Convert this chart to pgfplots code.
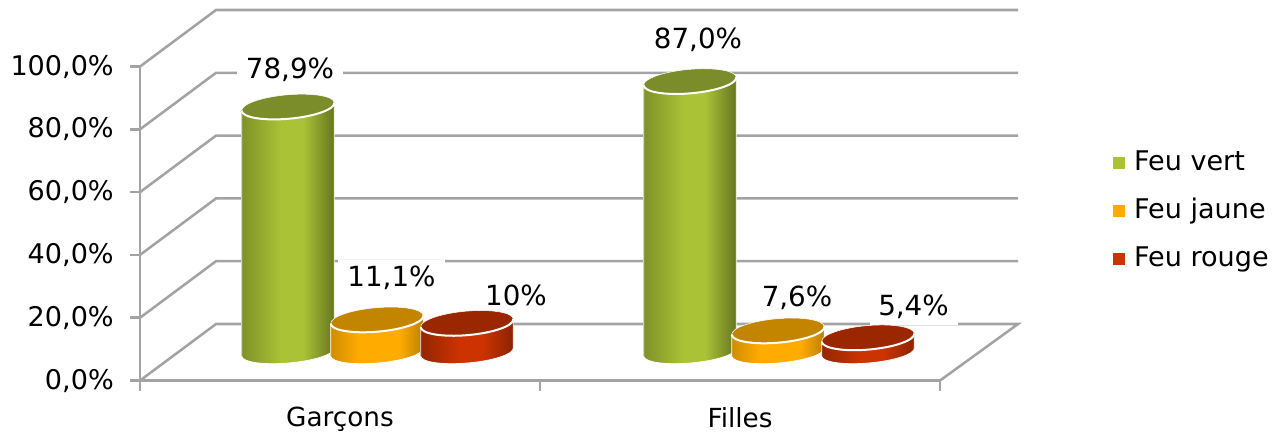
\documentclass[border=0pt]{standalone}
\usepackage{pgfplots}
\pgfplotsset{compat=1.18}
\usepackage{fontspec}
\setmainfont{DejaVu Sans}

\definecolor{wallgray}{HTML}{A3A3A3}
\definecolor{greenleft}{HTML}{7F9128}
\definecolor{greenedge}{HTML}{64741F}
\definecolor{greenmid}{HTML}{A9C236}
\definecolor{greencap}{HTML}{7B8D2A}
\definecolor{orangeleft}{HTML}{D08D00}
\definecolor{orangeedge}{HTML}{BA7E00}
\definecolor{orangemid}{HTML}{FFAB00}
\definecolor{orangecap}{HTML}{C38500}
\definecolor{redleft}{HTML}{942600}
\definecolor{rededge}{HTML}{8A2300}
\definecolor{redmid}{HTML}{CC3300}
\definecolor{redcap}{HTML}{9A2700}

% Round-body gradients, dark at both rims and bright just right of the centre.
\pgfdeclarehorizontalshading{bodygreen}{100bp}{color(0bp)=(greenleft); color(25bp)=(greenleft);
  color(46bp)=(greenmid); color(58bp)=(greenmid); color(75bp)=(greenedge); color(100bp)=(greenedge)}
\pgfdeclarehorizontalshading{bodyorange}{100bp}{color(0bp)=(orangeleft); color(25bp)=(orangeleft);
  color(40bp)=(orangemid); color(62bp)=(orangemid); color(75bp)=(orangeedge); color(100bp)=(orangeedge)}
\pgfdeclarehorizontalshading{bodyred}{100bp}{color(0bp)=(redleft); color(25bp)=(redleft);
  color(46bp)=(redmid); color(58bp)=(redmid); color(75bp)=(rededge); color(100bp)=(rededge)}

% A cylinder hanging below its data point; 1 unit = 1 px of the drawing.
% The value sets the height of the body (3.14 units per percent).
\newcommand{\cylinderpic}[2]{%
  \pgfmathsetmacro{\cylh}{\val*3.14-2.5}%
  \begin{tikzpicture}[x=0.75pt,y=0.75pt]
    \path[use as bounding box] (0,0) rectangle (0,0);
    \begin{scope}[overlay,shift={(38,26)}]
    \path[shade,shading=#1,shading angle=0,draw=white,line width=0.6pt]
      (-46.32,-4.05) -- (-46.32,-4.05-\cylh)
      .. controls (-45.79,-10.11-\cylh) and (-24.62,-13.20-\cylh) .. (0.96,-10.96-\cylh)
      .. controls (26.54,-8.72-\cylh) and (46.85,-2.01-\cylh) .. (46.32,4.05-\cylh)
      -- (46.32,4.05) -- cycle;
    \path[fill=#2,draw=white,line width=0.4pt,rotate=5]
      (0,0) ellipse[x radius=46.5,y radius=12];
    \draw[white,line width=1.5pt,rotate=5]
      (-46.5,0) arc[start angle=180,end angle=360,x radius=46.5,y radius=12];
    \end{scope}
  \end{tikzpicture}}

\newcommand{\chartfont}{\fontsize{20.3}{24}\selectfont}
\newcommand{\valuefont}{\fontsize{20.8}{24}\selectfont}

\pgfplotsset{
  wall/.style={wallgray,line width=1.9pt,forget plot,no markers},
  cyl/.style={only marks,mark=none,forget plot,
    visualization depends on={rawy \as \val},
    nodes near coords={\cylinderpic#1},
    nodes near coords style={anchor=center,inner sep=0pt,outer sep=0pt}},
}
\tikzset{
  vlabel/.style={fill=white,inner sep=0pt,font=\valuefont,
    minimum height=27pt,minimum width=79pt},
  swatch/.style={draw=none,fill=#1},
}

\begin{document}
\begin{tikzpicture}
\path[use as bounding box] (0,0) rectangle (960pt,324pt);
\begin{axis}[
  at={(105pt,38.6pt)},anchor=south west,
  scale only axis,width=600pt,height=235.5pt,
  xmin=140,xmax=940,ymin=0,ymax=100,
  clip=false,
  axis x line=bottom,axis y line=left,
  axis line style={-,wallgray,line width=1.9pt},
  tick style={wallgray,line width=1.9pt},
  tick align=outside,
  major tick length=7.5pt,
  xtick={140,540,940},xticklabels={,,},
  extra x ticks={340,740},
  extra x tick labels={Garçons,Filles},
  extra x tick style={major tick length=0pt},
  ytick={0,20,40,60,80,100},
  yticklabels={0{,}0\%,20{,}0\%,40{,}0\%,60{,}0\%,80{,}0\%,100{,}0\%},
  yticklabel style={font=\chartfont,inner sep=0pt,xshift=-12pt},
  xticklabel style={font=\fontsize{19.7}{24}\selectfont,inner sep=0pt,yshift=-20pt},
  legend cell align=left,
  legend style={draw=none,fill=none,at={(1.216,0.7325)},anchor=north west,
    font=\chartfont,row sep=17pt,inner sep=0pt,
    nodes={inner sep=0pt,text height=15pt,text depth=4pt}},
]
% walls and floor behind the cylinders
\addplot[wall] coordinates {(140,0) (216,18) (1018,18) (940,0)};
\addplot[wall] coordinates {(140,20) (216,38) (1018,38)};
\addplot[wall] coordinates {(140,40) (216,58) (1018,58)};
\addplot[wall] coordinates {(140,60) (216,78) (1018,78)};
\addplot[wall] coordinates {(140,80) (216,98) (1018,98)};
\addplot[wall] coordinates {(140,100) (216,118) (1018,118)};

% x position, share in percent
\addplot[cyl={{bodygreen}{greencap}}] table {
x y
250 78.9
652 87.0
};
\addplot[cyl={{bodyorange}{orangecap}}] table {
x y
339 11.1
740 7.6
};
\addplot[cyl={{bodyred}{redcap}}] table {
x y
429 10
830 5.4
};

\node[vlabel,minimum width=80pt] at (axis cs:290,98.9) {78,9\%};
\node[vlabel] at (axis cs:698,108.4) {87,0\%};
\node[vlabel,minimum width=80pt] at (axis cs:391.5,32.6) {11,1\%};
\node[vlabel,minimum width=62pt] at (axis cs:516,27.2) {10\%};
\node[vlabel,minimum width=66pt] at (axis cs:797,26.3) {7,6\%};
\node[vlabel,minimum width=66pt] at (axis cs:913.5,23.4) {5,4\%};

\addlegendimage{legend image code/.code={\path[swatch=greenmid] (0pt,-4.5pt) rectangle (9pt,4.5pt);\path[draw=none] (0pt,0pt) -- (15.75pt,0pt);}}
\addlegendentry{Feu vert}
\addlegendimage{legend image code/.code={\path[swatch=orangemid] (0pt,-4.5pt) rectangle (9pt,4.5pt);\path[draw=none] (0pt,0pt) -- (15.75pt,0pt);}}
\addlegendentry{Feu jaune}
\addlegendimage{legend image code/.code={\path[swatch=redmid] (0pt,-4.5pt) rectangle (9pt,4.5pt);\path[draw=none] (0pt,0pt) -- (15.75pt,0pt);}}
\addlegendentry{Feu rouge}
\end{axis}
\end{tikzpicture}
\end{document}
